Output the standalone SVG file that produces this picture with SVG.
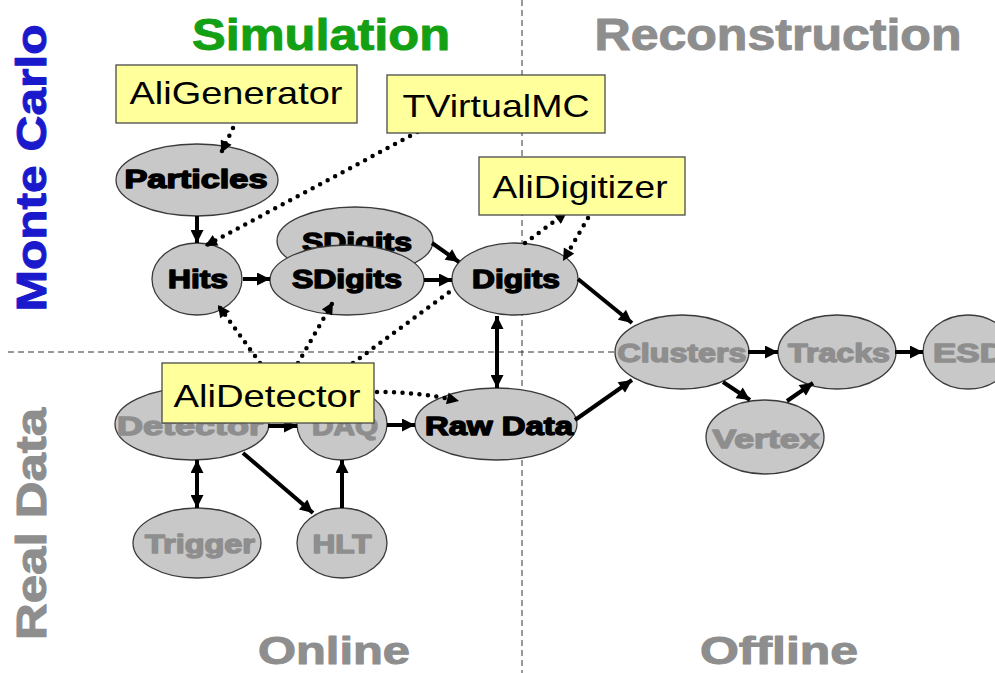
<svg xmlns="http://www.w3.org/2000/svg" width="995" height="673" viewBox="0 0 995 673">
<style>
.bg{fill:#fff}
.grid{stroke:#333;stroke-width:1;stroke-dasharray:6 4;fill:none}
.node ellipse{fill:#c8c8c8;stroke:#3a3a3a;stroke-width:1.3}
.nt{font-family:"Liberation Sans",Arial,sans-serif;font-weight:bold;font-size:25px;text-anchor:middle;stroke-width:1.4;stroke-linejoin:round}
.blk{fill:#000;stroke:#000}
.gry{fill:#8e8e8e;stroke:#8e8e8e}
.box rect{fill:#ffff9c;stroke:#4a4a4a;stroke-width:1.3}
.bt{font-family:"Liberation Sans",Arial,sans-serif;font-size:32px;text-anchor:middle;fill:#000}
.solid{stroke:#000;stroke-width:4;fill:none}
.dot{stroke:#000;stroke-width:4.5;stroke-dasharray:0 8.5;stroke-linecap:round;fill:none}
.title{font-family:"Liberation Sans",Arial,sans-serif;font-weight:bold;text-anchor:middle;stroke-width:1;stroke-linejoin:round}
</style>
<defs>
<marker id="ah" viewBox="0 0 10 10" refX="10" refY="5" markerWidth="15" markerHeight="13" markerUnits="userSpaceOnUse" orient="auto-start-reverse"><path d="M0,0 L10,5 L0,10z" fill="#000"/></marker>
<marker id="ahs" viewBox="0 0 10 10" refX="10" refY="5" markerWidth="14" markerHeight="12" markerUnits="userSpaceOnUse" orient="auto"><path d="M0,0 L10,5 L0,10z" fill="#000"/></marker>
</defs>
<rect class="bg" x="0" y="0" width="995" height="673"/>
<g id="grid">
<line class="grid" x1="522" y1="0" x2="522" y2="673"/>
<line class="grid" x1="8" y1="352" x2="616" y2="352"/>
</g>
<g id="titles">
<text class="title" x="321" y="50" font-size="44" fill="#14a014" stroke="#14a014" textLength="258" lengthAdjust="spacingAndGlyphs">Simulation</text>
<text class="title" x="778" y="50" font-size="44" fill="#8e8e8e" stroke="#8e8e8e" textLength="367" lengthAdjust="spacingAndGlyphs">Reconstruction</text>
<text class="title" x="334" y="664" font-size="38" fill="#8e8e8e" stroke="#8e8e8e" textLength="152" lengthAdjust="spacingAndGlyphs">Online</text>
<text class="title" x="779" y="664" font-size="38" fill="#8e8e8e" stroke="#8e8e8e" textLength="158" lengthAdjust="spacingAndGlyphs">Offline</text>
<text class="title" transform="translate(46,168) rotate(-90)" font-size="42" fill="#1a1acc" stroke="#1a1acc" textLength="287" lengthAdjust="spacingAndGlyphs">Monte Carlo</text>
<text class="title" transform="translate(46,524) rotate(-90)" font-size="42" fill="#8e8e8e" stroke="#8e8e8e" textLength="232" lengthAdjust="spacingAndGlyphs">Real Data</text>
</g>
<g id="particles" class="node"><ellipse cx="197" cy="180" rx="81" ry="36"/><text class="nt blk" x="196" y="188" textLength="143" lengthAdjust="spacingAndGlyphs">Particles</text></g>
<g id="hits" class="node"><ellipse cx="197" cy="279" rx="45" ry="36"/><text class="nt blk" x="198" y="288" textLength="60" lengthAdjust="spacingAndGlyphs">Hits</text></g>
<g id="sdigits-back" class="node"><ellipse cx="355" cy="241" rx="78" ry="34"/><text class="nt blk" x="357" y="251" textLength="110" lengthAdjust="spacingAndGlyphs">SDigits</text></g>
<g id="sdigits" class="node"><ellipse cx="347" cy="280" rx="77" ry="35"/><text class="nt blk" x="347" y="288" textLength="110" lengthAdjust="spacingAndGlyphs">SDigits</text></g>
<g id="digits" class="node"><ellipse cx="515" cy="279" rx="63" ry="36"/><text class="nt blk" x="516" y="288" textLength="88" lengthAdjust="spacingAndGlyphs">Digits</text></g>
<g id="rawdata" class="node"><ellipse cx="496" cy="424" rx="81" ry="36"/><text class="nt blk" x="499" y="435" textLength="148" lengthAdjust="spacingAndGlyphs">Raw Data</text></g>
<g id="detector" class="node"><ellipse cx="192" cy="424" rx="77" ry="36"/><text class="nt gry" x="190" y="435" textLength="146" lengthAdjust="spacingAndGlyphs">Detector</text></g>
<g id="daq" class="node"><ellipse cx="342" cy="424" rx="45" ry="36"/><text class="nt gry" x="345" y="435" textLength="66" lengthAdjust="spacingAndGlyphs">DAQ</text></g>
<g id="trigger" class="node"><ellipse cx="197" cy="543" rx="64" ry="35"/><text class="nt gry" x="200" y="553" textLength="110" lengthAdjust="spacingAndGlyphs">Trigger</text></g>
<g id="hlt" class="node"><ellipse cx="342" cy="543" rx="45" ry="35"/><text class="nt gry" x="342" y="553" textLength="59" lengthAdjust="spacingAndGlyphs">HLT</text></g>
<g id="clusters" class="node"><ellipse cx="682" cy="352" rx="67" ry="37"/><text class="nt gry" x="682" y="362" textLength="129" lengthAdjust="spacingAndGlyphs">Clusters</text></g>
<g id="tracks" class="node"><ellipse cx="837" cy="352" rx="59" ry="37"/><text class="nt gry" x="839" y="362" textLength="102" lengthAdjust="spacingAndGlyphs">Tracks</text></g>
<g id="esd" class="node"><ellipse cx="968" cy="352" rx="45" ry="37"/><text class="nt gry" x="969" y="362" textLength="72" lengthAdjust="spacingAndGlyphs">ESD</text></g>
<g id="vertex" class="node"><ellipse cx="765" cy="437" rx="59" ry="37"/><text class="nt gry" x="766" y="448" textLength="107" lengthAdjust="spacingAndGlyphs">Vertex</text></g>
<g id="connectors">
<line class="solid" x1="197" y1="216" x2="197" y2="243" marker-end="url(#ah)"/>
<line class="solid" x1="243" y1="279" x2="270" y2="279" marker-end="url(#ah)"/>
<line class="solid" x1="432" y1="243" x2="459" y2="262" marker-end="url(#ah)"/>
<line class="solid" x1="424" y1="280" x2="452" y2="280" marker-end="url(#ah)"/>
<line class="solid" x1="497" y1="316" x2="497" y2="388" marker-start="url(#ah)" marker-end="url(#ah)"/>
<line class="solid" x1="578" y1="279" x2="632" y2="323" marker-end="url(#ah)"/>
<line class="solid" x1="575" y1="420" x2="632" y2="380" marker-end="url(#ah)"/>
<line class="solid" x1="268" y1="426" x2="297" y2="426" marker-end="url(#ah)"/>
<line class="solid" x1="387" y1="425" x2="415" y2="425" marker-end="url(#ah)"/>
<line class="solid" x1="197" y1="460" x2="197" y2="508" marker-start="url(#ah)" marker-end="url(#ah)"/>
<line class="solid" x1="243" y1="453" x2="313" y2="513" marker-end="url(#ah)"/>
<line class="solid" x1="342" y1="508" x2="342" y2="460" marker-end="url(#ah)"/>
<line class="solid" x1="748" y1="352" x2="778" y2="352" marker-end="url(#ah)"/>
<line class="solid" x1="895" y1="352" x2="923" y2="352" marker-end="url(#ah)"/>
<line class="solid" x1="723" y1="382" x2="750" y2="400" marker-end="url(#ah)"/>
<line class="solid" x1="787" y1="401" x2="813" y2="383" marker-end="url(#ah)"/>
<line class="dot" x1="233" y1="128" x2="221" y2="153" marker-end="url(#ahs)"/>
<line class="dot" x1="425" y1="128" x2="205" y2="246" marker-end="url(#ahs)"/>
<line class="dot" x1="525" y1="243" x2="567" y2="212" marker-end="url(#ahs)"/>
<line class="dot" x1="588" y1="218" x2="563" y2="261" marker-end="url(#ahs)"/>
<line class="dot" x1="260" y1="363" x2="218" y2="305" marker-end="url(#ahs)"/>
<line class="dot" x1="298" y1="363" x2="333" y2="302" marker-end="url(#ahs)"/>
<line class="dot" x1="353" y1="363" x2="452" y2="290"/>
<path class="dot" d="M377,392 Q420,392 459,401" marker-end="url(#ahs)"/>
</g>
<g id="aligenerator" class="box"><rect x="116" y="65" width="241" height="58"/><text class="bt" x="236" y="104" textLength="213" lengthAdjust="spacingAndGlyphs">AliGenerator</text></g>
<g id="tvirtualmc" class="box"><rect x="387" y="75" width="218" height="58"/><text class="bt" x="496" y="117" textLength="187" lengthAdjust="spacingAndGlyphs">TVirtualMC</text></g>
<g id="alidigitizer" class="box"><rect x="479" y="157" width="206" height="58"/><text class="bt" x="580" y="198" textLength="175" lengthAdjust="spacingAndGlyphs">AliDigitizer</text></g>
<g id="alidetector" class="box"><rect x="162" y="363" width="212" height="60"/><text class="bt" x="267" y="407" textLength="187" lengthAdjust="spacingAndGlyphs">AliDetector</text></g>
</svg>
